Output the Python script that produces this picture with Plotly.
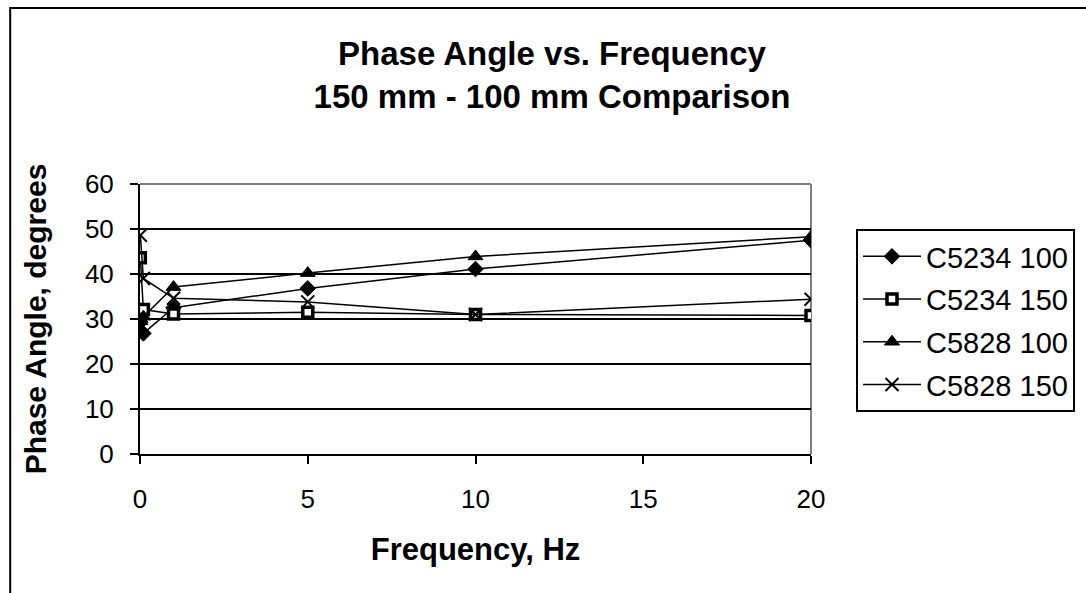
import plotly.graph_objects as go

freq = [0.01, 0.1, 1, 5, 10, 20]
c5234_100 = [29.3, 26.8, 32.5, 36.8, 41.1, 47.5]
c5234_150 = [43.6, 32.1, 31.1, 31.5, 31.0, 30.8]
c5828_100 = [29.5, 30.5, 37.1, 40.2, 43.9, 48.3]
c5828_150 = [48.6, 39.0, 34.6, 33.8, 31.0, 34.4]

series_names = ["C5234 100", "C5234 150", "C5828 100", "C5828 150"]
series_vals = [c5234_100, c5234_150, c5828_100, c5828_150]
markers = [
    dict(symbol="diamond", size=12, color="black", line=dict(color="black", width=1)),
    dict(symbol="square", size=10, color="white", line=dict(color="black", width=3.5)),
    dict(symbol="triangle-up", size=13, color="black", line=dict(color="black", width=1)),
    dict(symbol="x-thin-open", size=13, color="black", line=dict(color="black", width=2)),
]

FONT = "Liberation Sans, Arial, sans-serif"

fig = go.Figure()
for name, vals, mk in zip(series_names, series_vals, markers):
    fig.add_trace(go.Scatter(
        x=freq, y=vals, name=name, mode="lines+markers",
        line=dict(color="black", width=1.5), marker=mk,
        legendgroup=name,
    ))

W, H = 1086, 593
L, R, T, B = 140, 812, 184, 454
pw, ph = R - L, B - T

def px(xp):
    return (xp - L) / pw

def py(yp):
    return (B - yp) / ph

fig.update_layout(
    width=W, height=H,
    margin=dict(l=L, r=W - R, t=T, b=H - B),
    paper_bgcolor="white", plot_bgcolor="white",
    font=dict(family=FONT, color="black"),
    title=dict(
        text="<b>Phase Angle vs. Frequency<br>150 mm - 100 mm Comparison</b>",
        x=552 / W, xanchor="center",
        y=1 - 65 / H, yanchor="middle",
        font=dict(size=33, family=FONT, color="black"),
    ),
    xaxis=dict(
        range=[0, 20], tickvals=[0, 5, 10, 15, 20],
        showgrid=False, zeroline=False,
        showline=True, linecolor="black", linewidth=2,
        ticks="outside", ticklen=8, tickwidth=2, tickcolor="black",
        tickfont=dict(size=26, family=FONT), ticklabelstandoff=13,
        title=dict(text="<b>Frequency, Hz</b>", font=dict(size=31, family=FONT), standoff=25),
    ),
    yaxis=dict(
        range=[0, 60], tickvals=[0, 10, 20, 30, 40, 50, 60],
        showgrid=True, gridcolor="black", gridwidth=2, zeroline=False,
        showline=True, linecolor="black", linewidth=2,
        ticks="outside", ticklen=8, tickwidth=2, tickcolor="black",
        tickfont=dict(size=26, family=FONT), ticklabelstandoff=11,
        title=dict(text="<b>Phase Angle, degrees</b>", font=dict(size=30, family=FONT), standoff=29),
    ),
    legend=dict(
        x=px(856), y=py(229), xanchor="left", yanchor="top",
        bordercolor="black", borderwidth=2, bgcolor="white",
        font=dict(size=29, family=FONT, color="black"),
        itemwidth=58, traceorder="grouped", tracegroupgap=2,
    ),
    showlegend=True,
)

# plot area gray top/right border
fig.add_shape(type="line", xref="paper", yref="paper", x0=0, x1=1, y0=1, y1=1,
              line=dict(color="#808080", width=2), layer="above")
fig.add_shape(type="line", xref="paper", yref="paper", x0=1, x1=1, y0=0, y1=1,
              line=dict(color="#808080", width=2), layer="below")
# outer chart frame
fig.add_shape(type="rect", xref="paper", yref="paper",
              x0=px(10), x1=px(1120), y0=py(640), y1=py(8),
              line=dict(color="black", width=2), fillcolor="rgba(0,0,0,0)", layer="below")

fig.write_html("out.html")
